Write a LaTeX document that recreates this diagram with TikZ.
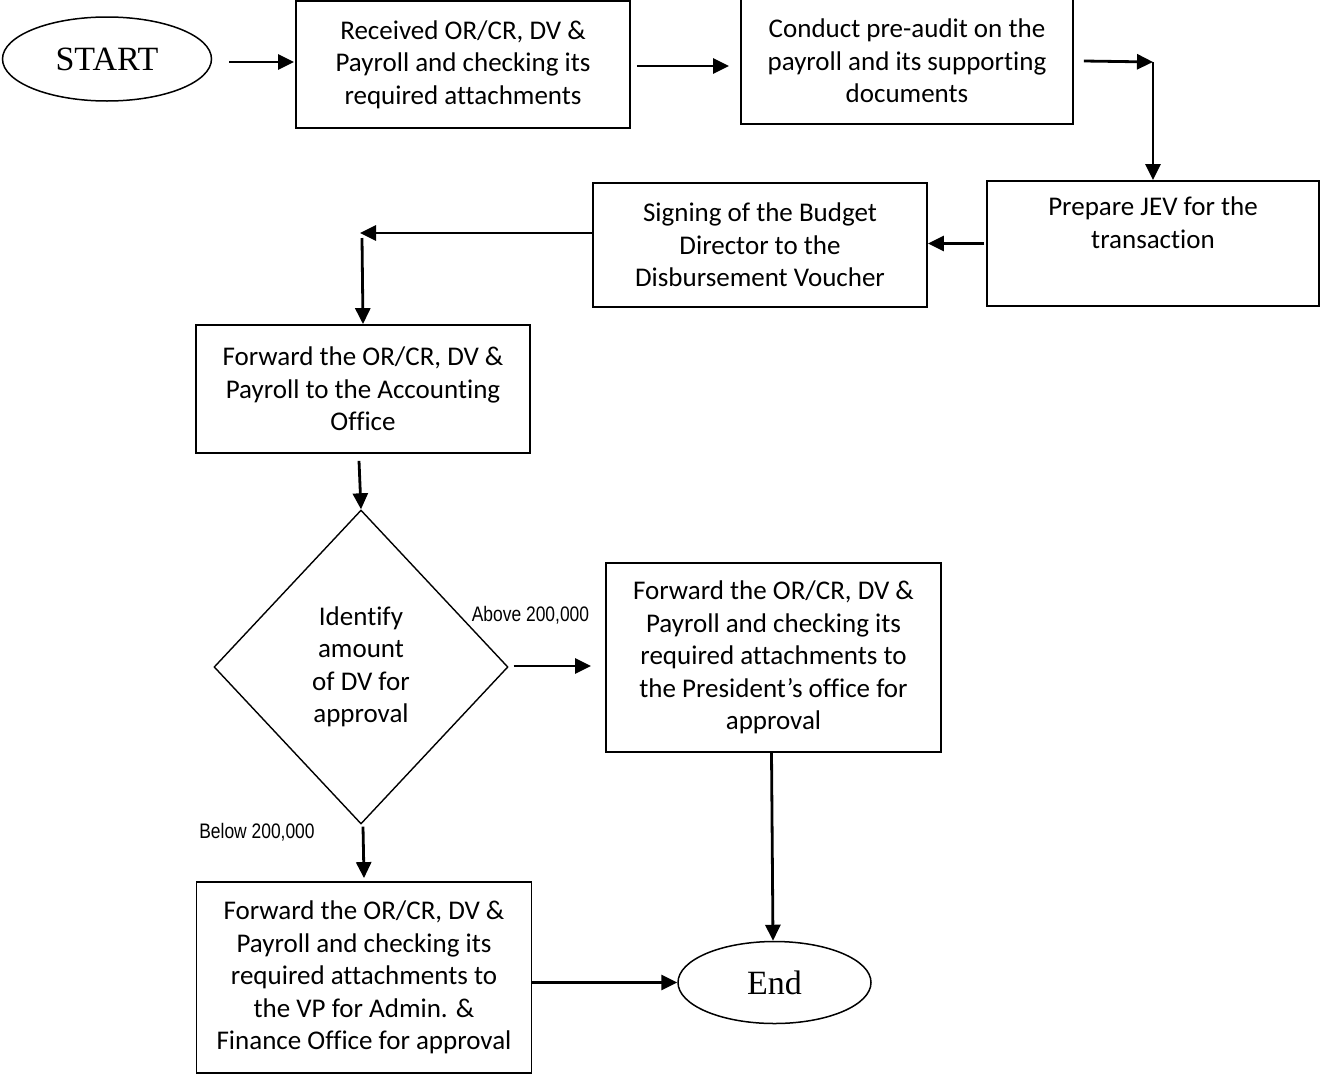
\documentclass[tikz,border=0pt]{standalone}
\usepackage{fontspec}
\setmainfont{Carlito}[Ligatures={NoCommon,NoContextual}]
\newfontfamily\termfont{Liberation Serif}
\newfontfamily\labfont{Liberation Sans}[FakeStretch=0.83]
\usetikzlibrary{shapes.geometric,arrows.meta}

\begin{document}
\begin{tikzpicture}[x=1pt,y=-1pt,
  stepbox/.style={draw,line width=1.8pt,rectangle,inner sep=0pt,align=center,
    font=\fontsize{27}{32.5}\selectfont},
  term/.style={draw,line width=1.5pt,ellipse,inner sep=0pt,
    font=\termfont\fontsize{34}{40}\selectfont},
  decision/.style={draw,line width=1.4pt,diamond,inner sep=0pt,align=center,
    font=\fontsize{27}{32.5}\selectfont},
  arr/.style={line width=2.8pt,-{Triangle[length=16pt,width=15pt]}},
  cond/.style={font=\labfont\fontsize{21}{24}\selectfont,inner sep=0pt}]

\useasboundingbox (0,0) rectangle (1321,1074);

% terminals
\node[term,minimum width=209pt,minimum height=84pt] (start) at (107,59) {START};
\node[term,minimum width=193pt,minimum height=82pt] (endn) at (774.5,982.5) {End};

% process steps
\node[stepbox,minimum width=334pt,minimum height=127pt] (b1) at (463,64.5)
  {Received OR/CR, DV \&\\Payroll and checking its\\required attachments};
\node[stepbox,minimum width=332pt,minimum height=126pt] (b2) at (907,61)
  {Conduct pre-audit on the\\payroll and its supporting\\documents};
\node[stepbox,minimum width=332pt,minimum height=125pt] (b4) at (1153,243.5)
  {Prepare JEV for the\\transaction\\\strut};
\node[stepbox,minimum width=334pt,minimum height=124pt] (b3) at (760,245)
  {Signing of the Budget\\Director to the\\Disbursement Voucher};
\node[stepbox,minimum width=334pt,minimum height=128pt] (b5) at (363,389)
  {Forward the OR/CR, DV \&\\Payroll to the Accounting\\Office};
\node[decision,minimum width=294pt,minimum height=314pt] (dia) at (361,667)
  {Identify\\amount\\of DV for\\approval};
\node[stepbox,minimum width=335pt,minimum height=189pt] (b6) at (773.5,657.5)
  {Forward the OR/CR, DV \&\\Payroll and checking its\\required attachments to\\the President’s office for\\approval};
\node[stepbox,minimum width=335pt,minimum height=191pt] (b7) at (364,977.5)
  {Forward the OR/CR, DV \&\\Payroll and checking its\\required attachments to\\the VP for Admin. \&\\Finance Office for approval};

% bends and branch labels
\coordinate (c1) at (1153,62);
\coordinate (c2) at (360,233);
\coordinate (c3) at (362,238);
\node[cond] (above) at (530.5,615) {Above 200,000};
\node[cond] (below) at (257,832) {Below 200,000};

% connectors
\draw[arr] (start.east) ++(17,3) -- ([xshift=-1pt]b1.west |- 0,62);
\draw[arr] ([shift={(6,1.5)}]b1.east) -- ([shift={(-11,5)}]b2.west);
\draw[arr] ([xshift=10pt]b2.east) -- (c1);
\draw[arr] (c1) -- (b4.north);
\draw[arr] ([xshift=-2pt]b4.west) -- (b3.east |- b4.west);
\draw[arr] (b3.west |- c2) -- (c2);
\draw[arr] (c3) -- (b5.north);
\draw[arr] ([shift={(-4,7)}]b5.south) -- (dia.north);
\draw[arr] ([shift={(5,-1)}]dia.east) -- ([shift={(-14,8.5)}]b6.west);
\draw[arr] ([shift={(2,2)}]dia.south) -- ([shift={(0,-3)}]b7.north);
\draw[arr] ([xshift=-2pt]b6.south) -- ([xshift=-1.5pt]endn.north);
\draw[arr] (b7.east |- endn.west) -- (endn.west);

\end{tikzpicture}
\end{document}
